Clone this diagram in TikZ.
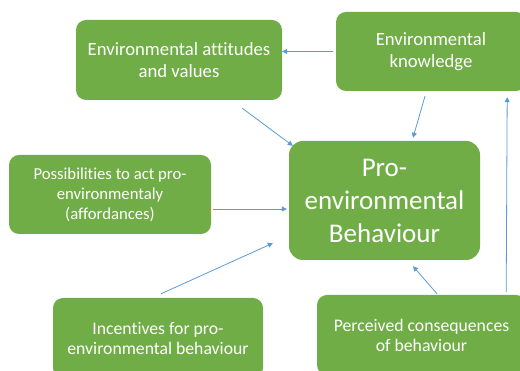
\documentclass[tikz,border=0pt]{standalone}
\usepackage{fontspec}
\setmainfont{Carlito}[RawFeature={-liga;-clig;-dlig}]
\usetikzlibrary{arrows.meta}
\definecolor{boxgreen}{HTML}{70AD47}
\definecolor{arrblue}{HTML}{5B9BD5}
\tikzset{
  gbox/.style={fill=boxgreen, draw=none, rounded corners=10pt, text=white, align=center, inner sep=0pt},
  arr/.style={draw=arrblue, line width=0.8pt, -{Triangle[width=5pt,length=5pt]}},
}
\begin{document}
\begin{tikzpicture}[x=1pt,y=1pt]
\useasboundingbox (0,0) rectangle (520,371);
\node[gbox, minimum width=206pt, minimum height=80pt, font=\fontsize{18.7}{22}\selectfont] (att) at (179,311) {Environmental attitudes\\and values};
\node[gbox, minimum width=190pt, minimum height=79pt, font=\fontsize{18.7}{22}\selectfont] (know) at (431,319.5) {Environmental\\knowledge};
\node[gbox, minimum width=202pt, minimum height=79pt, font=\fontsize{16.7}{20}\selectfont] (poss) at (110,176.5) {Possibilities to act pro-\\environmentaly\\(affordances)};
\node[gbox, minimum width=191pt, minimum height=119pt, rounded corners=14pt, font=\fontsize{27}{33}\selectfont] (peb) at (384.5,170.5) {Pro-\\environmental\\Behaviour};
\node[gbox, minimum width=210pt, minimum height=80pt, font=\fontsize{17.7}{20}\selectfont] (inc) at (158,33) {Incentives for pro-\\environmental behaviour};
\node[gbox, minimum width=209pt, minimum height=80pt, font=\fontsize{17.7}{20}\selectfont] (perc) at (421.5,36) {Perceived consequences\\of behaviour};
\draw[arr] ([xshift=-3pt]know.west) -- (att.east |- know.west);
\draw[arr] ([shift={(-40pt,-8pt)}]att.south east) -- ([shift={(4pt,-5pt)}]peb.north west);
\draw[arr] ([shift={(-6pt,-5pt)}]know.south) -- ([shift={(28.5pt,3pt)}]peb.north);
\draw[arr] ([shift={(-20pt,3pt)}]perc.north east) -- ([shift={(-19pt,-6pt)}]know.south east);
\draw[arr] ([shift={(2pt,-14.5pt)}]poss.east) -- ([shift={(-2pt,-8.5pt)}]peb.west);
\draw[arr] ([shift={(3pt,4pt)}]inc.north) -- ([shift={(-16pt,17pt)}]peb.south west);
\draw[arr] ([shift={(15.5pt,1pt)}]perc.north) -- ([shift={(28.5pt,-6pt)}]peb.south);
\end{tikzpicture}
\end{document}
